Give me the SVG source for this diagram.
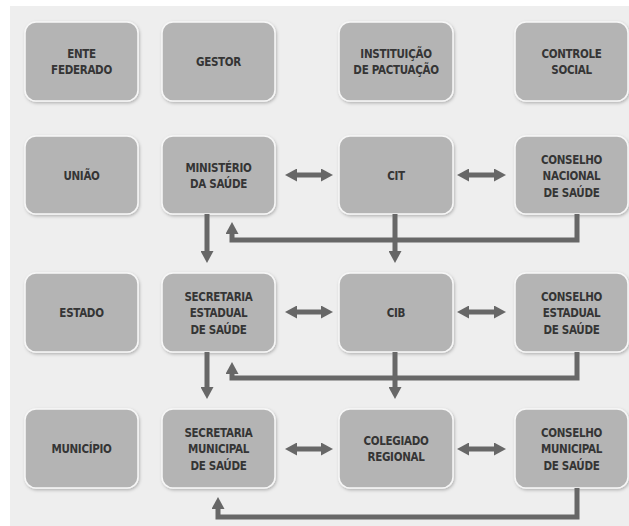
<svg xmlns="http://www.w3.org/2000/svg" width="629" height="526" viewBox="0 0 629 526">
<defs>
<filter id="sh" x="-10%" y="-10%" width="125%" height="125%">
<feDropShadow dx="1" dy="1.5" stdDeviation="1.5" flood-color="#000" flood-opacity="0.25"/>
</filter>
<marker id="ah" viewBox="0 0 12 13" refX="4" refY="6.5" markerWidth="12" markerHeight="13" markerUnits="userSpaceOnUse" orient="auto-start-reverse">
<path d="M0,0 L12,6.5 L0,13 z" fill="#676767"/>
</marker>
<style>
.box{fill:#b4b4b4;stroke:#f7f7f7;stroke-width:1.5;filter:url(#sh)}
.t{font-family:"DejaVu Sans Condensed","Liberation Sans Narrow","Liberation Sans",sans-serif;font-size:11.5px;font-weight:bold;letter-spacing:-0.3px;fill:#353535;text-anchor:middle}
.c{fill:none;stroke:#676767;stroke-width:5;stroke-linejoin:miter}
</style>
</defs>
<rect x="0" y="0" width="629" height="526" fill="#ffffff"/>
<rect x="10" y="6" width="619" height="520" fill="#eeeeee"/>

<g id="ente-federado"><rect class="box" x="25" y="22" width="113" height="79" rx="11"/><text class="t" x="81.5" y="58">ENTE</text><text class="t" x="81.5" y="74">FEDERADO</text></g>
<g id="gestor"><rect class="box" x="162" y="22" width="113" height="79" rx="11"/><text class="t" x="218.5" y="66">GESTOR</text></g>
<g id="instituicao"><rect class="box" x="339" y="22" width="114" height="79" rx="11"/><text class="t" x="396" y="58">INSTITUIÇÃO</text><text class="t" x="396" y="74">DE PACTUAÇÃO</text></g>
<g id="controle-social"><rect class="box" x="515" y="22" width="113" height="79" rx="11"/><text class="t" x="571.5" y="58">CONTROLE</text><text class="t" x="571.5" y="74">SOCIAL</text></g>

<g id="uniao"><rect class="box" x="25" y="136" width="113" height="78" rx="11"/><text class="t" x="81.5" y="179.5">UNIÃO</text></g>
<g id="ministerio"><rect class="box" x="162" y="136" width="113" height="78" rx="11"/><text class="t" x="218.5" y="171.5">MINISTÉRIO</text><text class="t" x="218.5" y="187.5">DA SAÚDE</text></g>
<g id="cit"><rect class="box" x="339" y="136" width="114" height="78" rx="11"/><text class="t" x="396" y="179.5">CIT</text></g>
<g id="cns"><rect class="box" x="515" y="136" width="113" height="78" rx="11"/><text class="t" x="571.5" y="163.5">CONSELHO</text><text class="t" x="571.5" y="180">NACIONAL</text><text class="t" x="571.5" y="196.5">DE SAÚDE</text></g>

<g id="estado"><rect class="box" x="25" y="273" width="113" height="79" rx="11"/><text class="t" x="81.5" y="317">ESTADO</text></g>
<g id="ses"><rect class="box" x="162" y="273" width="113" height="79" rx="11"/><text class="t" x="218.5" y="300.5">SECRETARIA</text><text class="t" x="218.5" y="317">ESTADUAL</text><text class="t" x="218.5" y="333.5">DE SAÚDE</text></g>
<g id="cib"><rect class="box" x="339" y="273" width="114" height="79" rx="11"/><text class="t" x="396" y="317">CIB</text></g>
<g id="ces"><rect class="box" x="515" y="273" width="113" height="79" rx="11"/><text class="t" x="571.5" y="300.5">CONSELHO</text><text class="t" x="571.5" y="317">ESTADUAL</text><text class="t" x="571.5" y="333.5">DE SAÚDE</text></g>

<g id="municipio"><rect class="box" x="25" y="409" width="113" height="79" rx="11"/><text class="t" x="81.5" y="453">MUNICÍPIO</text></g>
<g id="sms"><rect class="box" x="162" y="409" width="113" height="79" rx="11"/><text class="t" x="218.5" y="436.5">SECRETARIA</text><text class="t" x="218.5" y="453">MUNICIPAL</text><text class="t" x="218.5" y="469.5">DE SAÚDE</text></g>
<g id="colegiado"><rect class="box" x="339" y="409" width="114" height="79" rx="11"/><text class="t" x="396" y="445">COLEGIADO</text><text class="t" x="396" y="461">REGIONAL</text></g>
<g id="cms"><rect class="box" x="515" y="409" width="113" height="79" rx="11"/><text class="t" x="571.5" y="436.5">CONSELHO</text><text class="t" x="571.5" y="453">MUNICIPAL</text><text class="t" x="571.5" y="469.5">DE  SAÚDE</text></g>

<g id="connectors">
<line class="c" x1="293" y1="175" x2="325" y2="175" marker-start="url(#ah)" marker-end="url(#ah)"/>
<line class="c" x1="465" y1="175" x2="498" y2="175" marker-start="url(#ah)" marker-end="url(#ah)"/>
<line class="c" x1="293" y1="312" x2="325" y2="312" marker-start="url(#ah)" marker-end="url(#ah)"/>
<line class="c" x1="465" y1="312" x2="498" y2="312" marker-start="url(#ah)" marker-end="url(#ah)"/>
<line class="c" x1="293" y1="449" x2="325" y2="449" marker-start="url(#ah)" marker-end="url(#ah)"/>
<line class="c" x1="465" y1="449" x2="498" y2="449" marker-start="url(#ah)" marker-end="url(#ah)"/>

<path class="c" d="M577,214 V240 H232 V230" marker-end="url(#ah)"/>
<path class="c" d="M577,352 V378 H232 V370" marker-end="url(#ah)"/>
<path class="c" d="M577,488 V517 H218 V505" marker-end="url(#ah)"/>

<line class="c" x1="207" y1="214" x2="207" y2="255" marker-end="url(#ah)"/>
<line class="c" x1="207" y1="352" x2="207" y2="391" marker-end="url(#ah)"/>
<line class="c" x1="395" y1="214" x2="395" y2="255" marker-end="url(#ah)"/>
<line class="c" x1="395" y1="352" x2="395" y2="391" marker-end="url(#ah)"/>
</g>
</svg>
